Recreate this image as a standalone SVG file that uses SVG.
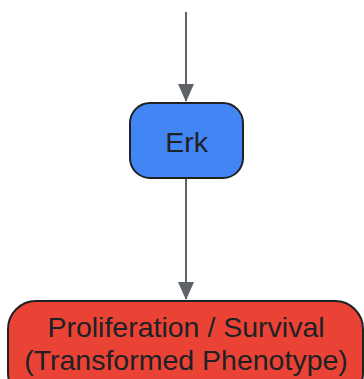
<svg xmlns="http://www.w3.org/2000/svg" width="364" height="379" viewBox="0 0 364 379">
<style>
.edge{stroke:#5f6368;stroke-width:2;fill:none}
.node{stroke:#202124;stroke-width:2}
.lbl{font-family:"Liberation Sans",Arial,sans-serif;font-size:28.5px;fill:#202124;text-anchor:middle}
</style>
<defs>
<marker id="ah" markerUnits="userSpaceOnUse" markerWidth="18" markerHeight="24" refX="17" refY="8" orient="auto" viewBox="0 0 18 16">
<path d="M0,0 L18,8 L0,16 Z" fill="#5f6368"/>
</marker>
</defs>
<rect width="364" height="379" fill="#ffffff"/>
<g id="connectors">
<path class="edge" d="M186,12 L186,101" marker-end="url(#ah)"/>
<path class="edge" d="M186,178 L186,299" marker-end="url(#ah)"/>
</g>
<g id="erk">
<rect class="node" x="130" y="103" width="113" height="75" rx="20" fill="#4285f4"/>
<text class="lbl" x="186.5" y="152">Erk</text>
</g>
<g id="proliferation">
<rect class="node" x="8" y="301" width="355" height="100" rx="28" fill="#ea4335"/>
<text class="lbl" x="186" y="337">Proliferation / Survival</text>
<text class="lbl" x="186" y="370">(Transformed Phenotype)</text>
</g>
</svg>
